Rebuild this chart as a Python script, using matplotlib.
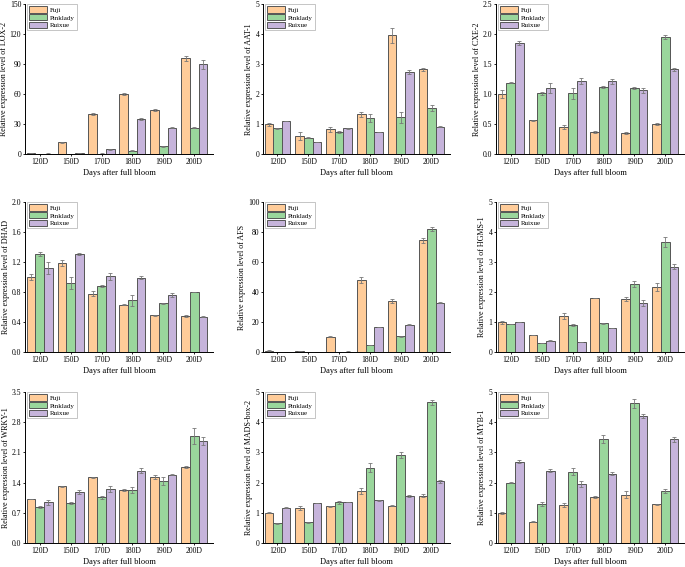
import numpy as np
import matplotlib
matplotlib.use("Agg")
import matplotlib.pyplot as plt

plt.rcParams["font.family"] = ["Liberation Serif", "DejaVu Serif"]

# Categories and series
days = ["120D", "150D", "170D", "180D", "190D", "200D"]
cultivars = ["Fuji", "Pinklady", "Ruixue"]
colors = ["#FFCC99", "#9AD69C", "#C6B4DB"]

# Values (per gene: Fuji, Pinklady, Ruixue)
lox2 = [[1.0, 12, 40, 60, 44, 96],
        [0.2, 0.2, 0.5, 3.5, 8, 26.5],
        [0.5, 0.8, 5, 35, 26.5, 90]]
lox2_err = [[0.3, 0.5, 1.0, 0.6, 0.6, 2.5],
            [0.1, 0.1, 0.1, 0.3, 0.5, 0.6],
            [0.1, 0.2, 0.5, 1.0, 0.8, 4.5]]

aat1 = [[1.0, 0.6, 0.82, 1.33, 3.96, 2.82],
        [0.86, 0.55, 0.74, 1.2, 1.22, 1.54],
        [1.1, 0.4, 0.86, 0.73, 2.73, 0.91]]
aat1_err = [[0.05, 0.13, 0.07, 0.08, 0.25, 0.06],
            [0.01, 0.02, 0.03, 0.12, 0.18, 0.1],
            [0.01, 0.01, 0.01, 0.01, 0.06, 0.01]]

cxe2 = [[1.0, 0.56, 0.45, 0.37, 0.35, 0.5],
        [1.19, 1.01, 1.01, 1.12, 1.1, 1.95],
        [1.85, 1.1, 1.21, 1.21, 1.06, 1.41]]
cxe2_err = [[0.07, 0.01, 0.03, 0.02, 0.02, 0.01],
            [0.01, 0.03, 0.09, 0.02, 0.02, 0.03],
            [0.04, 0.08, 0.05, 0.04, 0.04, 0.03]]

dhad = [[1.0, 1.19, 0.78, 0.63, 0.49, 0.48],
        [1.31, 0.92, 0.88, 0.69, 0.65, 0.8],
        [1.12, 1.31, 1.01, 0.99, 0.76, 0.47]]
dhad_err = [[0.04, 0.04, 0.03, 0.005, 0.01, 0.01],
            [0.03, 0.08, 0.01, 0.07, 0.01, 0.005],
            [0.08, 0.01, 0.05, 0.02, 0.03, 0.005]]

afs = [[1.0, 0.7, 10.3, 48, 34, 74.5],
       [0.1, 0.1, 0.2, 4.8, 10.5, 82],
       [0.1, 0.1, 0.3, 16.8, 18.3, 33]]
afs_err = [[0.2, 0.2, 0.3, 2.0, 1.5, 1.8],
           [0.05, 0.05, 0.05, 0.2, 0.3, 1.5],
           [0.05, 0.05, 0.05, 0.2, 0.3, 0.4]]

hgms1 = [[0.99, 0.57, 1.2, 1.8, 1.76, 2.17],
         [0.93, 0.3, 0.9, 0.96, 2.26, 3.66],
         [1.0, 0.38, 0.33, 0.8, 1.63, 2.85]]
hgms1_err = [[0.06, 0.01, 0.09, 0.01, 0.07, 0.12],
             [0.01, 0.01, 0.02, 0.01, 0.1, 0.17],
             [0.01, 0.01, 0.01, 0.01, 0.1, 0.08]]

wrky1 = [[1.02, 1.31, 1.52, 1.23, 1.53, 1.76],
         [0.83, 0.92, 1.06, 1.23, 1.44, 2.48],
         [0.94, 1.18, 1.25, 1.68, 1.58, 2.37]]
wrky1_err = [[0.01, 0.01, 0.01, 0.03, 0.05, 0.03],
             [0.02, 0.02, 0.03, 0.07, 0.09, 0.18],
             [0.06, 0.05, 0.07, 0.06, 0.01, 0.09]]

madsbox2 = [[1.0, 1.15, 1.21, 1.73, 1.24, 1.57],
            [0.65, 0.68, 1.35, 2.5, 2.92, 4.66],
            [1.17, 1.32, 1.36, 1.41, 1.55, 2.04]]
madsbox2_err = [[0.02, 0.07, 0.03, 0.1, 0.01, 0.05],
                [0.01, 0.02, 0.05, 0.16, 0.1, 0.08],
                [0.01, 0.01, 0.01, 0.03, 0.04, 0.06]]

myb1 = [[1.0, 0.71, 1.27, 1.53, 1.6, 1.28],
        [2.0, 1.3, 2.36, 3.45, 4.62, 1.73],
        [2.69, 2.4, 1.96, 2.3, 4.2, 3.44]]
myb1_err = [[0.03, 0.01, 0.07, 0.03, 0.12, 0.02],
            [0.01, 0.06, 0.12, 0.14, 0.15, 0.07],
            [0.05, 0.06, 0.1, 0.04, 0.07, 0.08]]

panels = [
    ("LOX-2", lox2, lox2_err, [0, 30, 60, 90, 120, 150], "{:.0f}"),
    ("AAT-1", aat1, aat1_err, [0, 1, 2, 3, 4, 5], "{:.0f}"),
    ("CXE-2", cxe2, cxe2_err, [0, 0.5, 1.0, 1.5, 2.0, 2.5], "{:.1f}"),
    ("DHAD", dhad, dhad_err, [0, 0.4, 0.8, 1.2, 1.6, 2.0], "{:.1f}"),
    ("AFS", afs, afs_err, [0, 20, 40, 60, 80, 100], "{:.0f}"),
    ("HGMS-1", hgms1, hgms1_err, [0, 1, 2, 3, 4, 5], "{:.0f}"),
    ("WRKY-1", wrky1, wrky1_err, [0, 0.7, 1.4, 2.1, 2.8, 3.5], "{:.1f}"),
    ("MADS-box-2", madsbox2, madsbox2_err, [0, 1, 2, 3, 4, 5], "{:.0f}"),
    ("MYB-1", myb1, myb1_err, [0, 1, 2, 3, 4, 5], "{:.0f}"),
]

W, H = 685, 567
fig = plt.figure(figsize=(W / 100, H / 100), dpi=100)

# axes boxes in pixels: (left, top, right, bottom)
lefts = [25, 263, 496]
rights = [213, 450, 684]
tops = [4, 202, 392]
bottoms = [154, 352, 543]

x = np.arange(len(days))
bw = 0.28

for i, (gene, vals, errs, yticks, fmt) in enumerate(panels):
    r, c = divmod(i, 3)
    l, t, rr, b = lefts[c], tops[r], rights[c], bottoms[r]
    ax = fig.add_axes([l / W, (H - b) / H, (rr - l) / W, (b - t) / H])
    for k in range(3):
        ax.bar(x + (k - 1) * bw, vals[k], bw, yerr=errs[k], color=colors[k],
               edgecolor="#555555", linewidth=0.7, label=cultivars[k],
               error_kw=dict(ecolor="#777777", elinewidth=0.6, capsize=1.5, capthick=0.6))
    ax.set_xlim(-0.47, 5.6)
    ax.set_ylim(yticks[0], yticks[-1])
    ax.set_yticks(yticks)
    ax.set_yticklabels([fmt.format(v) for v in yticks])
    ax.set_xticks(x)
    ax.set_xticklabels(days)
    ax.tick_params(labelsize=5.5, length=1.5, width=0.6, pad=1.2)
    for s in ["top", "right"]:
        ax.spines[s].set_visible(False)
    for s in ["left", "bottom"]:
        ax.spines[s].set_linewidth(0.7)
    ax.set_ylabel("Relative expression level of " + gene, fontsize=5.8, labelpad=1.5)
    ax.set_xlabel("Days after full bloom", fontsize=6, labelpad=2.5)
    leg = ax.legend(loc="upper left", bbox_to_anchor=(0.01, 1.0), fontsize=5,
                    frameon=True, fancybox=False, borderaxespad=0.0,
                    handlelength=2.6, handleheight=1.1, handletextpad=0.4,
                    borderpad=0.3, labelspacing=0.15)
    leg.get_frame().set_edgecolor("#999999")
    leg.get_frame().set_linewidth(0.5)

fig.savefig("out.png", dpi=100)
